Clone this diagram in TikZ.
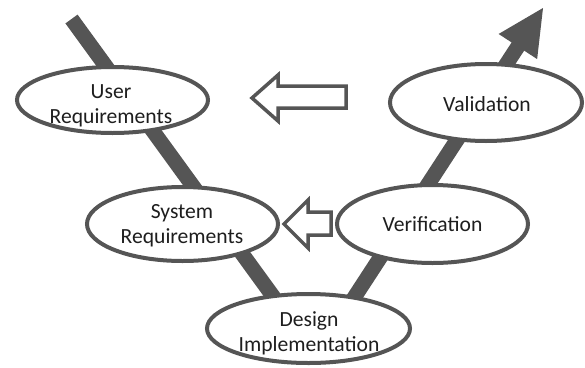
\documentclass[tikz,border=0pt]{standalone}
\usepackage{fontspec}
\setmainfont{Carlito}
\usetikzlibrary{shapes.geometric,calc,shadows}
\definecolor{barc}{HTML}{555555}
\definecolor{txtc}{HTML}{1E1E1E}
\begin{document}
\begin{tikzpicture}[x=1pt,y=-1pt,
  ell/.style={ellipse, draw=barc, line width=4pt, fill=white, inner sep=0pt},
  lbl/.style={align=center, font=\fontsize{21.6}{25}\selectfont, text=txtc, inner sep=0pt},
  vbar/.style={draw=barc, line width=15pt, line cap=butt},
  hollow/.style={draw=barc, line width=3.5pt, fill=white, line join=miter,
    drop shadow={shadow xshift=1.3pt, shadow yshift=-1.3pt, opacity=0.35}}]
\useasboundingbox (0,0) rectangle (585,367);
% V-shaped bars
\coordinate (ltop) at (71.5,19);
\coordinate (lbot) at (283,310);
\coordinate (rbot) at (333,330);
\coordinate (rtip) at (543,8);
\coordinate (rbase) at ($(rtip)!46pt!(rbot)$);
\coordinate (rshaft) at ($(rtip)!43pt!(rbot)$);
\coordinate (rb1) at ($(rbase)!23pt!90:(rtip)$);
\coordinate (rb2) at ($(rbase)!23pt!-90:(rtip)$);
\draw[vbar] (ltop) -- (lbot);
\draw[vbar] (rbot) -- (rshaft);
\fill[barc] (rtip) -- (rb1) -- (rb2) -- cycle;
% ellipses
\node[ell, minimum width=191pt, minimum height=66pt] (user) at (112.5,100) {};
\node[ell, minimum width=191pt, minimum height=74pt] (sys) at (182.5,224) {};
\node[ell, minimum width=203pt, minimum height=69pt] (des) at (308.5,328.5) {};
\node[ell, minimum width=191pt, minimum height=78pt] (ver) at (432.5,224) {};
\node[ell, minimum width=192pt, minimum height=77pt] (val) at (486,102.5) {};
% labels
\node[lbl] (userL) at (111,106) {User\\Requirements};
\node[lbl] (sysL) at (182,226) {System\\Requirements};
\node[lbl] (desL) at (309,333) {Design\\Implementation};
\node[lbl] (verL) at (432.5,224) {Verification};
\node[lbl] (valL) at (487,104) {Validation};
% hollow block arrows
\draw[hollow] (252,98) -- (278,75) -- (278,86) -- (346,86) -- (346,108) -- (278,108) -- (278,121) -- cycle;
\draw[hollow] (284,224) -- (308,200) -- (308,212) -- (331,212) -- (331,235) -- (308,235) -- (308,248) -- cycle;
\end{tikzpicture}
\end{document}
